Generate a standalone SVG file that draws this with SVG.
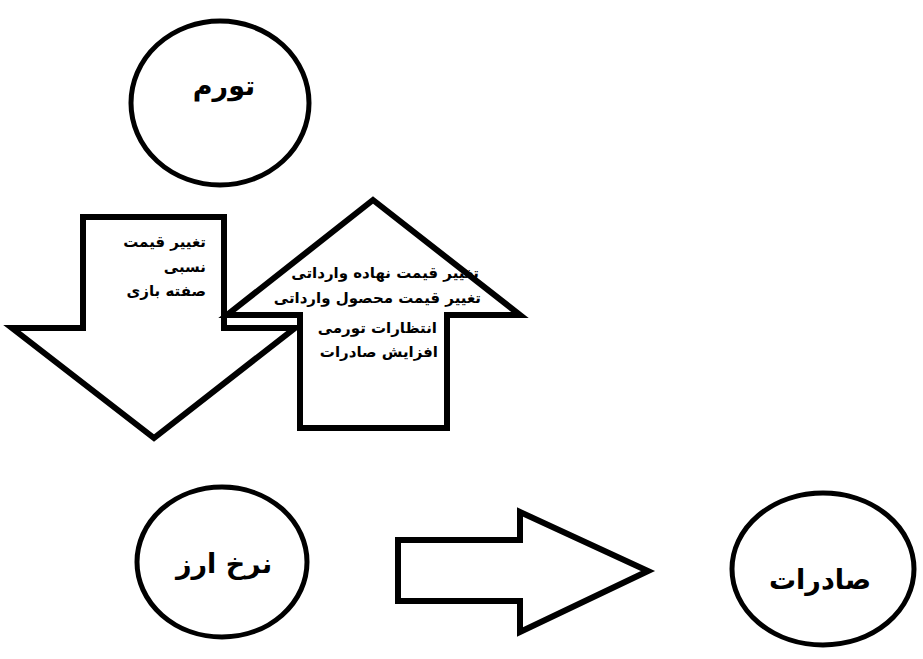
<svg xmlns="http://www.w3.org/2000/svg" width="923" height="659" viewBox="0 0 923 659">
  <style>
    .node { fill: #fff; stroke: #000; stroke-width: 5; }
    .arrow { fill: #fff; stroke: #000; stroke-width: 6; stroke-linejoin: miter; }
    .title { font-family: "DejaVu Sans", "Noto Sans", sans-serif; font-weight: bold; font-size: 27px; fill: #000; text-anchor: middle; }
    .note { font-family: "DejaVu Sans", "Noto Sans", sans-serif; font-weight: bold; font-size: 15px; fill: #000; }
  </style>
  <rect width="923" height="659" fill="#fff"/>

  <g id="tavarom">
    <ellipse class="node" cx="220" cy="103" rx="89" ry="82"/>
    <text class="title" x="224" y="95">تورم</text>
  </g>

  <g id="nerkh-arz">
    <ellipse class="node" cx="222" cy="562" rx="85" ry="75"/>
    <text class="title" x="224" y="573">نرخ ارز</text>
  </g>

  <g id="saderat">
    <ellipse class="node" cx="823" cy="569" rx="91" ry="76"/>
    <text class="title" x="820" y="589">صادرات</text>
  </g>

  <g id="connectors">
    <g id="down-arrow">
      <polygon class="arrow" points="83,217 224,217 224,328 295,328 154,438 12,328 83,328"/>
      <text class="note" text-anchor="end" x="206" y="247">تغییر قیمت</text>
      <text class="note" text-anchor="end" x="206" y="272">نسبی</text>
      <text class="note" text-anchor="end" x="206" y="296">صفته بازی</text>
    </g>
    <g id="up-arrow">
      <polygon class="arrow" points="373,200 520,315 447,315 447,428 300,428 300,315 227,315"/>
      <text class="note" text-anchor="end" x="479" y="278">تغییر قیمت نهاده وارداتی</text>
      <text class="note" text-anchor="end" x="481" y="303">تغییر قیمت محصول وارداتی</text>
      <text class="note" text-anchor="end" x="437" y="333">انتظارات تورمی</text>
      <text class="note" text-anchor="end" x="438" y="357">افزایش صادرات</text>
    </g>
    <g id="right-arrow">
      <polygon class="arrow" points="398,540 520,540 520,512 648,571 520,632 520,601 398,601"/>
    </g>
  </g>
</svg>
